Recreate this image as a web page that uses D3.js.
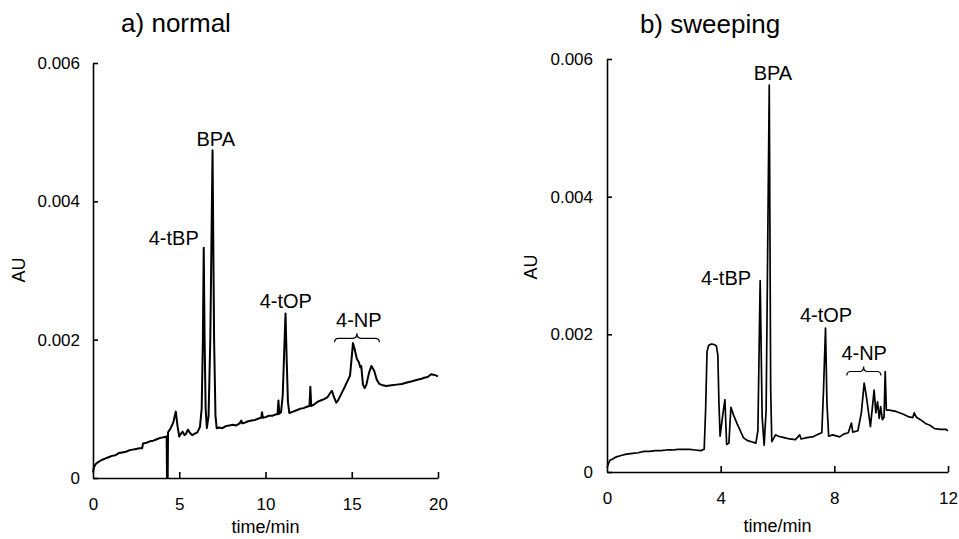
<!DOCTYPE html>
<html>
<head>
<meta charset="utf-8">
<script src="https://cdn.jsdelivr.net/npm/d3@7"></script>
<style>
  body { margin: 0; background: #fff; }
  svg { display: block; font-family: "Liberation Sans", Arial, sans-serif; }
</style>
</head>
<body>
<div id="chart"></div>
<script>
// chromatogram traces, [time (min), absorbance (mAU)]
const normalTrace = [
  [0, 0.08], [0.05, 0.15], [0.15, 0.2], [0.3, 0.23], [0.5, 0.26], [0.7, 0.28], [0.9, 0.3],
  [1.1, 0.32], [1.3, 0.33], [1.5, 0.36], [1.7, 0.37], [1.9, 0.38], [2.1, 0.4], [2.3, 0.41],
  [2.5, 0.42], [2.7, 0.43], [2.85, 0.43], [2.9, 0.5], [3.1, 0.51], [3.3, 0.53], [3.5, 0.54],
  [3.7, 0.56], [3.9, 0.58], [4.1, 0.59], [4.27, 0.6], [4.29, 0.0], [4.33, 0.0], [4.35, 0.66],
  [4.5, 0.72], [4.65, 0.8], [4.8, 0.96], [4.9, 0.75], [5.0, 0.6], [5.1, 0.64], [5.2, 0.67],
  [5.3, 0.62], [5.4, 0.64], [5.5, 0.7], [5.6, 0.66], [5.75, 0.62], [5.9, 0.64], [6.05, 0.66],
  [6.2, 0.74], [6.3, 1.0], [6.37, 2.0], [6.42, 3.33], [6.47, 2.0], [6.53, 1.0], [6.6, 0.72],
  [6.7, 0.9], [6.8, 2.0], [6.93, 4.74], [7.02, 2.0], [7.1, 0.9], [7.17, 0.72], [7.3, 0.73],
  [7.5, 0.72], [7.7, 0.75], [7.9, 0.76], [8.1, 0.77], [8.3, 0.76], [8.5, 0.79], [8.6, 0.83],
  [8.65, 0.79], [8.8, 0.8], [9.0, 0.82], [9.2, 0.83], [9.4, 0.84], [9.6, 0.86], [9.75, 0.87],
  [9.8, 0.95], [9.85, 0.87], [10.0, 0.88], [10.2, 0.9], [10.4, 0.9], [10.6, 0.92], [10.7, 0.92],
  [10.75, 1.12], [10.8, 0.93], [10.9, 0.95], [11.0, 1.2], [11.08, 1.8], [11.16, 2.38],
  [11.23, 1.7], [11.3, 1.1], [11.38, 0.94], [11.6, 0.96], [11.8, 0.98], [12.0, 1.0],
  [12.2, 1.01], [12.4, 1.03], [12.55, 1.04], [12.6, 1.32], [12.65, 1.04], [12.8, 1.06],
  [13.0, 1.1], [13.2, 1.12], [13.4, 1.14], [13.6, 1.17], [13.75, 1.23], [13.85, 1.26],
  [14.0, 1.15], [14.1, 1.09], [14.2, 1.12], [14.4, 1.22], [14.6, 1.32], [14.75, 1.4],
  [14.9, 1.48], [15.0, 1.75], [15.07, 1.95], [15.15, 1.88], [15.3, 1.72], [15.4, 1.68],
  [15.5, 1.6], [15.55, 1.62], [15.65, 1.35], [15.75, 1.3], [15.85, 1.35], [16.0, 1.52],
  [16.14, 1.62], [16.3, 1.55], [16.45, 1.42], [16.6, 1.36], [16.8, 1.34], [17.0, 1.33],
  [17.3, 1.34], [17.6, 1.35], [17.9, 1.36], [18.2, 1.38], [18.5, 1.4], [18.8, 1.42],
  [19.0, 1.43], [19.2, 1.45], [19.4, 1.46], [19.6, 1.5], [19.8, 1.49], [20.0, 1.47]
];

const sweepingTrace = [
  [0.0, 0.06], [0.05, 0.12], [0.1, 0.17], [0.2, 0.19], [0.33, 0.22], [0.5, 0.24], [0.68, 0.26],
  [0.9, 0.27], [1.1, 0.28], [1.3, 0.3], [1.5, 0.3], [1.7, 0.31], [1.9, 0.31], [2.1, 0.32],
  [2.3, 0.32], [2.5, 0.33], [2.7, 0.33], [2.9, 0.33], [3.1, 0.32], [3.3, 0.31], [3.42, 0.33],
  [3.47, 0.9], [3.52, 1.75], [3.58, 1.84], [3.68, 1.86], [3.78, 1.85], [3.85, 1.83],
  [3.9, 1.7], [3.94, 1.0], [3.98, 0.52], [4.08, 0.85], [4.15, 1.05], [4.21, 0.4], [4.29, 0.42],
  [4.36, 0.94], [4.45, 0.83], [4.58, 0.7], [4.68, 0.61], [4.8, 0.5], [4.93, 0.46], [5.08, 0.44],
  [5.24, 0.42], [5.31, 0.6], [5.39, 2.78], [5.46, 0.8], [5.53, 0.39], [5.6, 0.9], [5.71, 5.62],
  [5.76, 1.2], [5.8, 0.44], [5.88, 0.5], [5.93, 0.54], [6.03, 0.52], [6.23, 0.5], [6.43, 0.48],
  [6.63, 0.47], [6.78, 0.54], [6.83, 0.48], [7.03, 0.5], [7.23, 0.51], [7.43, 0.55], [7.56, 0.57],
  [7.62, 1.2], [7.69, 2.09], [7.74, 1.0], [7.8, 0.52], [7.94, 0.54], [8.19, 0.51], [8.33, 0.55],
  [8.49, 0.57], [8.6, 0.71], [8.65, 0.58], [8.83, 0.6], [8.95, 0.86], [9.05, 1.29], [9.13, 1.09],
  [9.27, 0.66], [9.4, 1.19], [9.46, 0.86], [9.52, 1.02], [9.58, 0.78], [9.63, 0.95], [9.69, 0.76],
  [9.75, 0.8], [9.79, 1.46], [9.83, 0.9], [9.93, 0.9], [10.17, 0.88], [10.43, 0.84], [10.63, 0.8],
  [10.76, 0.79], [10.81, 0.86], [10.88, 0.8], [11.03, 0.76], [11.23, 0.7], [11.36, 0.68],
  [11.53, 0.63], [11.73, 0.62], [11.92, 0.62], [12.0, 0.6]
];

// axis ticks
const normalTimeTicks = [0, 5, 10, 15, 20];
const sweepingTimeTicks = [0, 4, 8, 12];
const auTicks = [0, 0.002, 0.004, 0.006];

// peak labels: text, time, absorbance (mAU) of the label baseline
const normalLabels = [
  { text: "4-tBP", t: 4.68, v: 3.37 },
  { text: "BPA", t: 7.12, v: 4.8 },
  { text: "4-tOP", t: 11.18, v: 2.46 },
  { text: "4-NP", t: 15.41, v: 2.18 }
];
const sweepingLabels = [
  { text: "4-tBP", t: 4.19, v: 2.72 },
  { text: "BPA", t: 5.84, v: 5.69 },
  { text: "4-tOP", t: 7.71, v: 2.18 },
  { text: "4-NP", t: 9.05, v: 1.62 }
];

// 4-NP braces: start, middle, end time and level (mAU)
const normalBrace = { t0: 14.0, tm: 15.3, t1: 16.6, v: 2.02 };
const sweepingBrace = { t0: 8.44, tm: 9.03, t1: 9.64, v: 1.46 };

const width = 959;
const height = 539;

const svg = d3.select("#chart")
  .append("svg")
  .attr("width", width)
  .attr("height", height);

function drawPanel(opt) {
  const x = d3.scaleLinear()
    .domain([opt.ticks[0], opt.ticks[opt.ticks.length - 1]])
    .range([opt.left, opt.right]);
  const y = d3.scaleLinear()
    .domain([0, 0.006])
    .range([opt.bottom, opt.top]);

  const g = svg.append("g");

  // y axis, ticks pointing inward
  const yAxis = g.append("g")
    .attr("transform", `translate(${opt.left},0)`)
    .call(d3.axisLeft(y)
      .tickValues(auTicks)
      .tickFormat(d => d === 0 ? "0" : d3.format(".3f")(d))
      .tickSize(-5)
      .tickSizeOuter(0)
      .tickPadding(opt.yPad));

  const xAxis = g.append("g")
    .attr("transform", `translate(0,${opt.bottom})`)
    .call(d3.axisBottom(x)
      .tickValues(opt.ticks)
      .tickSize(-6)
      .tickSizeOuter(0)
      .tickPadding(20));

  [yAxis, xAxis].forEach(a => {
    a.selectAll("path, line").attr("stroke", "#000").attr("stroke-width", 1.6);
    a.selectAll("text")
      .attr("fill", "#000")
      .style("font-size", "17px")
      .style("font-family", "'Liberation Sans', Arial, sans-serif");
  });
  // hide the x tick that sits on the y axis
  xAxis.selectAll(".tick line").filter(d => d === opt.ticks[0]).remove();

  // trace
  const line = d3.line()
    .x(d => x(d[0]))
    .y(d => y(d[1] / 1000));

  g.append("path")
    .datum(opt.trace)
    .attr("fill", "none")
    .attr("stroke", "#000")
    .attr("stroke-width", opt.lineWidth)
    .attr("stroke-linejoin", "round")
    .attr("d", line);

  // peak labels
  g.selectAll(".peak")
    .data(opt.labels)
    .enter().append("text")
    .attr("class", "peak")
    .attr("x", d => x(d.t))
    .attr("y", d => y(d.v / 1000))
    .attr("text-anchor", "middle")
    .style("font-size", "20px")
    .text(d => d.text);

  // brace over 4-NP
  const b = opt.brace;
  const bx0 = x(b.t0), bxm = x(b.tm), bx1 = x(b.t1), by = y(b.v / 1000);
  g.append("path")
    .attr("fill", "none")
    .attr("stroke", "#000")
    .attr("stroke-width", 1.2)
    .attr("d", `M${bx0},${by + 4} Q${bx0},${by} ${bx0 + 4},${by} L${bxm - 4},${by}` +
      ` Q${bxm},${by} ${bxm},${by - 5} Q${bxm},${by} ${bxm + 4},${by}` +
      ` L${bx1 - 4},${by} Q${bx1},${by} ${bx1},${by + 4}`);

  // axis titles
  g.append("text")
    .attr("x", (opt.left + opt.right) / 2)
    .attr("y", opt.xTitleY)
    .attr("text-anchor", "middle")
    .style("font-size", "18px")
    .text("time/min");

  g.append("text")
    .attr("transform", `translate(${opt.auX},${opt.auY}) rotate(-90)`)
    .attr("text-anchor", "middle")
    .style("font-size", "18px")
    .text("AU");

  g.append("text")
    .attr("x", opt.titleX)
    .attr("y", opt.titleY)
    .attr("text-anchor", "middle")
    .style("font-size", "26px")
    .text(opt.title);
}

drawPanel({
  title: "a) normal", titleX: 176, titleY: 32,
  trace: normalTrace, ticks: normalTimeTicks,
  labels: normalLabels, brace: normalBrace,
  left: 93, right: 438, top: 63, bottom: 478,
  yPad: 13, xTitleY: 533, auX: 25, auY: 270, lineWidth: 2
});

drawPanel({
  title: "b) sweeping", titleX: 710, titleY: 33,
  trace: sweepingTrace, ticks: sweepingTimeTicks,
  labels: sweepingLabels, brace: sweepingBrace,
  left: 607, right: 948, top: 59, bottom: 472,
  yPad: 14, xTitleY: 532, auX: 537, auY: 267, lineWidth: 1.7
});
</script>
</body>
</html>
